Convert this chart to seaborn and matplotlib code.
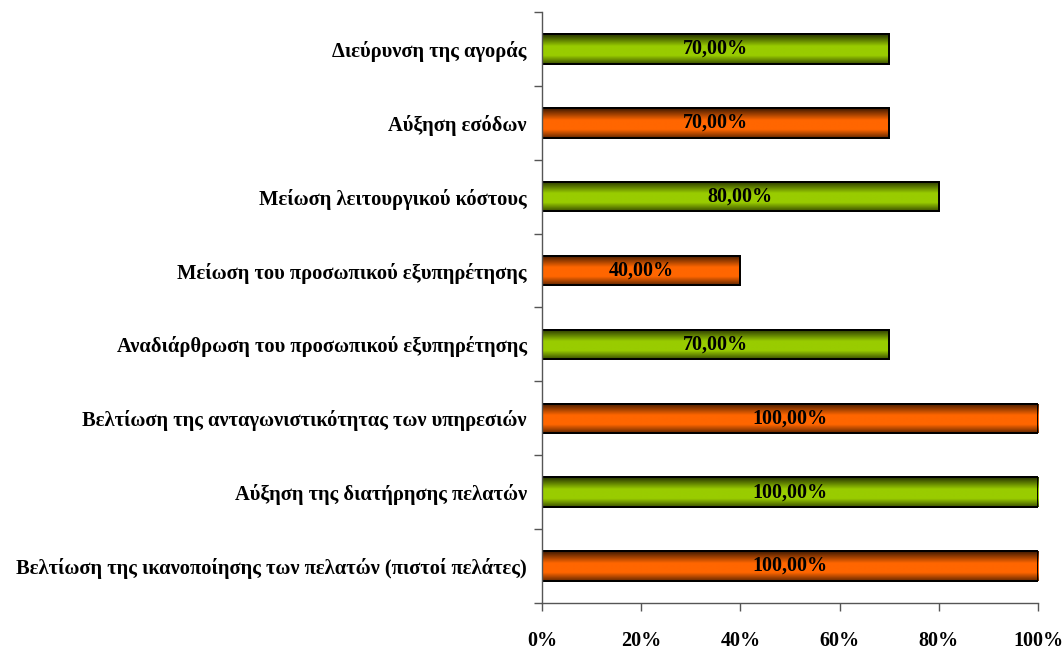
import numpy as np
import pandas as pd
import matplotlib
matplotlib.use("Agg")
import matplotlib.pyplot as plt
import seaborn as sns
from matplotlib.colors import LinearSegmentedColormap, to_rgb
from matplotlib.ticker import FixedLocator, PercentFormatter

# δεδομένα (από πάνω προς τα κάτω)
categories = [
    "Διεύρυνση της αγοράς",
    "Αύξηση εσόδων",
    "Μείωση λειτουργικού κόστους",
    "Μείωση του προσωπικού εξυπηρέτησης",
    "Αναδιάρθρωση του προσωπικού εξυπηρέτησης",
    "Βελτίωση της ανταγωνιστικότητας των υπηρεσιών",
    "Αύξηση της διατήρησης πελατών",
    "Βελτίωση της ικανοποίησης των πελατών (πιστοί πελάτες)",
]
values = [70, 70, 80, 40, 70, 100, 100, 100]
bar_colors = ["#99CC00", "#FF6600", "#99CC00", "#FF6600",
              "#99CC00", "#FF6600", "#99CC00", "#FF6600"]
xtick_values = [0, 20, 40, 60, 80, 100]

df = pd.DataFrame({"cat": categories, "val": values})

sns.set_style("white")
plt.rcParams["font.family"] = ["Liberation Serif", "DejaVu Serif"]
plt.rcParams["font.weight"] = "bold"
plt.rcParams["text.color"] = "black"
plt.rcParams["xtick.color"] = "black"
plt.rcParams["ytick.color"] = "black"

fig = plt.figure(figsize=(10.64, 6.49), dpi=100)
ax = fig.add_axes([0.5094, 0.0709, 0.4662, 0.9106])

sns.barplot(data=df, x="val", y="cat", hue="cat", palette=bar_colors,
            order=categories, legend=False, width=0.4, orient="h",
            edgecolor="black", linewidth=1.3, ax=ax)

# κάθετη διαβάθμιση σε κάθε μπάρα (σκούρο στις άκρες)
for p, c in zip(ax.patches, bar_colors):
    base = np.array(to_rgb(c))
    dark = base * 0.25
    cmap = LinearSegmentedColormap.from_list(
        "g", [(0.0, dark), (0.4, base), (0.72, base), (1.0, base * 0.4)])
    x0, y0 = p.get_x(), p.get_y()
    w, h = p.get_width(), p.get_height()
    grad = np.linspace(0, 1, 64).reshape(-1, 1)
    im = ax.imshow(grad, cmap=cmap, aspect="auto", interpolation="bilinear",
                   extent=(x0, x0 + w, y0 + h, y0), zorder=p.get_zorder() + 0.1)
    im.set_clip_path(p)
    ax.add_patch(plt.Rectangle((x0, y0), w, h, fill=False, edgecolor="black",
                               linewidth=1.4, zorder=p.get_zorder() + 0.2))

for i, v in enumerate(values):
    ax.text(v / 2, i, f"{v:.2f}".replace(".", ",") + "%", ha="center",
            va="center", fontsize=14.5, fontweight="bold", color="black",
            zorder=10)

ax.set_xlim(0, 100)
ax.set_ylim(len(categories) - 0.5, -0.5)
ax.set_xticks(xtick_values)
ax.xaxis.set_major_formatter(PercentFormatter(decimals=0))
ax.yaxis.set_minor_locator(FixedLocator(np.arange(-0.5, len(categories), 1)))
ax.tick_params(axis="y", which="major", left=False, length=0, pad=11,
               labelsize=14.8, labelcolor="black")
ax.tick_params(axis="y", which="minor", left=True, length=6, width=1,
               direction="out", color="#555555")
ax.tick_params(axis="x", which="major", bottom=True, length=6, width=1,
               direction="out", pad=14, labelsize=14.5, color="#555555",
               labelcolor="black")
for lab in ax.get_yticklabels() + ax.get_xticklabels():
    lab.set_fontweight("bold")

for s in ["top", "right"]:
    ax.spines[s].set_visible(False)
for s in ["left", "bottom"]:
    ax.spines[s].set_color("#555555")
    ax.spines[s].set_linewidth(1)

ax.set_xlabel("")
ax.set_ylabel("")

fig.savefig("out.png", dpi=100)
